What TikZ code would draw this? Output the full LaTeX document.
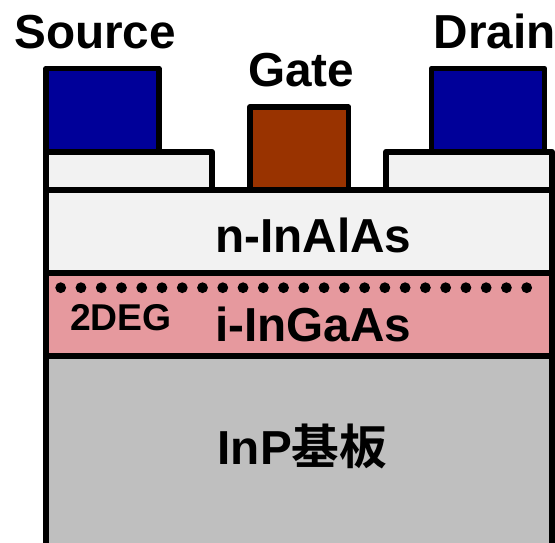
\documentclass[tikz,border=0pt]{standalone}
\usepackage{fontspec}
\setmainfont{Liberation Sans}
\newfontfamily\cjkfont{Noto Sans CJK JP}[BoldFont={* Bold}]
\definecolor{metalblue}{HTML}{000099}
\definecolor{gatebrown}{HTML}{993300}
\definecolor{palelayer}{HTML}{F2F2F2}
\definecolor{pinklayer}{HTML}{E6999E}
\definecolor{graylayer}{HTML}{BFBFBF}
\tikzset{
  layer/.style={draw=black,line width=5.6pt,line join=round},
  biglabel/.style={anchor=base west,inner sep=0pt,font=\fontsize{47.7}{47.7}\selectfont\bfseries},
  midlabel/.style={biglabel,font=\fontsize{37.3}{37.3}\selectfont\bfseries}
}
\begin{document}
\begin{tikzpicture}[x=1pt,y=-1pt]
\useasboundingbox (0,0) rectangle (555,542);
\fill[white] (0,0) rectangle (555,542);
% metal contacts and cap layers
\path[layer,fill=metalblue] (46,68.5) rectangle (159,160);
\path[layer,fill=metalblue] (431.5,68.5) rectangle (544.5,160);
\path[layer,fill=gatebrown] (249.8,107) rectangle (348.5,195);
\path[layer,fill=palelayer] (46,151.7) rectangle (212,195);
\path[layer,fill=palelayer] (386,151.7) rectangle (552,195);
% epitaxial layers
\path[layer,fill=palelayer] (46,189.8) rectangle (552,272.7);
\path[layer,fill=pinklayer] (46,272.7) rectangle (552,355.8);
\path[layer,fill=graylayer] (46,355.8) rectangle (552,570);
% 2DEG dots
\foreach \i in {0,...,23}
  \fill[black] ({60.7+\i*20.26},287.7) circle (5.4);
% labels
\node[biglabel] (source) at (14,48.5) {Source};
\node[biglabel] (gate) at (248,86) {Gate};
\node[biglabel] (drain) at (433.5,48.5) {Drain};
\node[biglabel] (inalas) at (215,252.5) {n-InAlAs};
\node[biglabel] (ingaas) at (215,341) {i-InGaAs};
\node[midlabel] (deg) at (70,330.5) {2DEG};
\node[biglabel] (inp) at (217.5,464.5) {InP{\cjkfont\fontsize{47.7}{47.7}\selectfont\bfseries 基板}};
\end{tikzpicture}
\end{document}
